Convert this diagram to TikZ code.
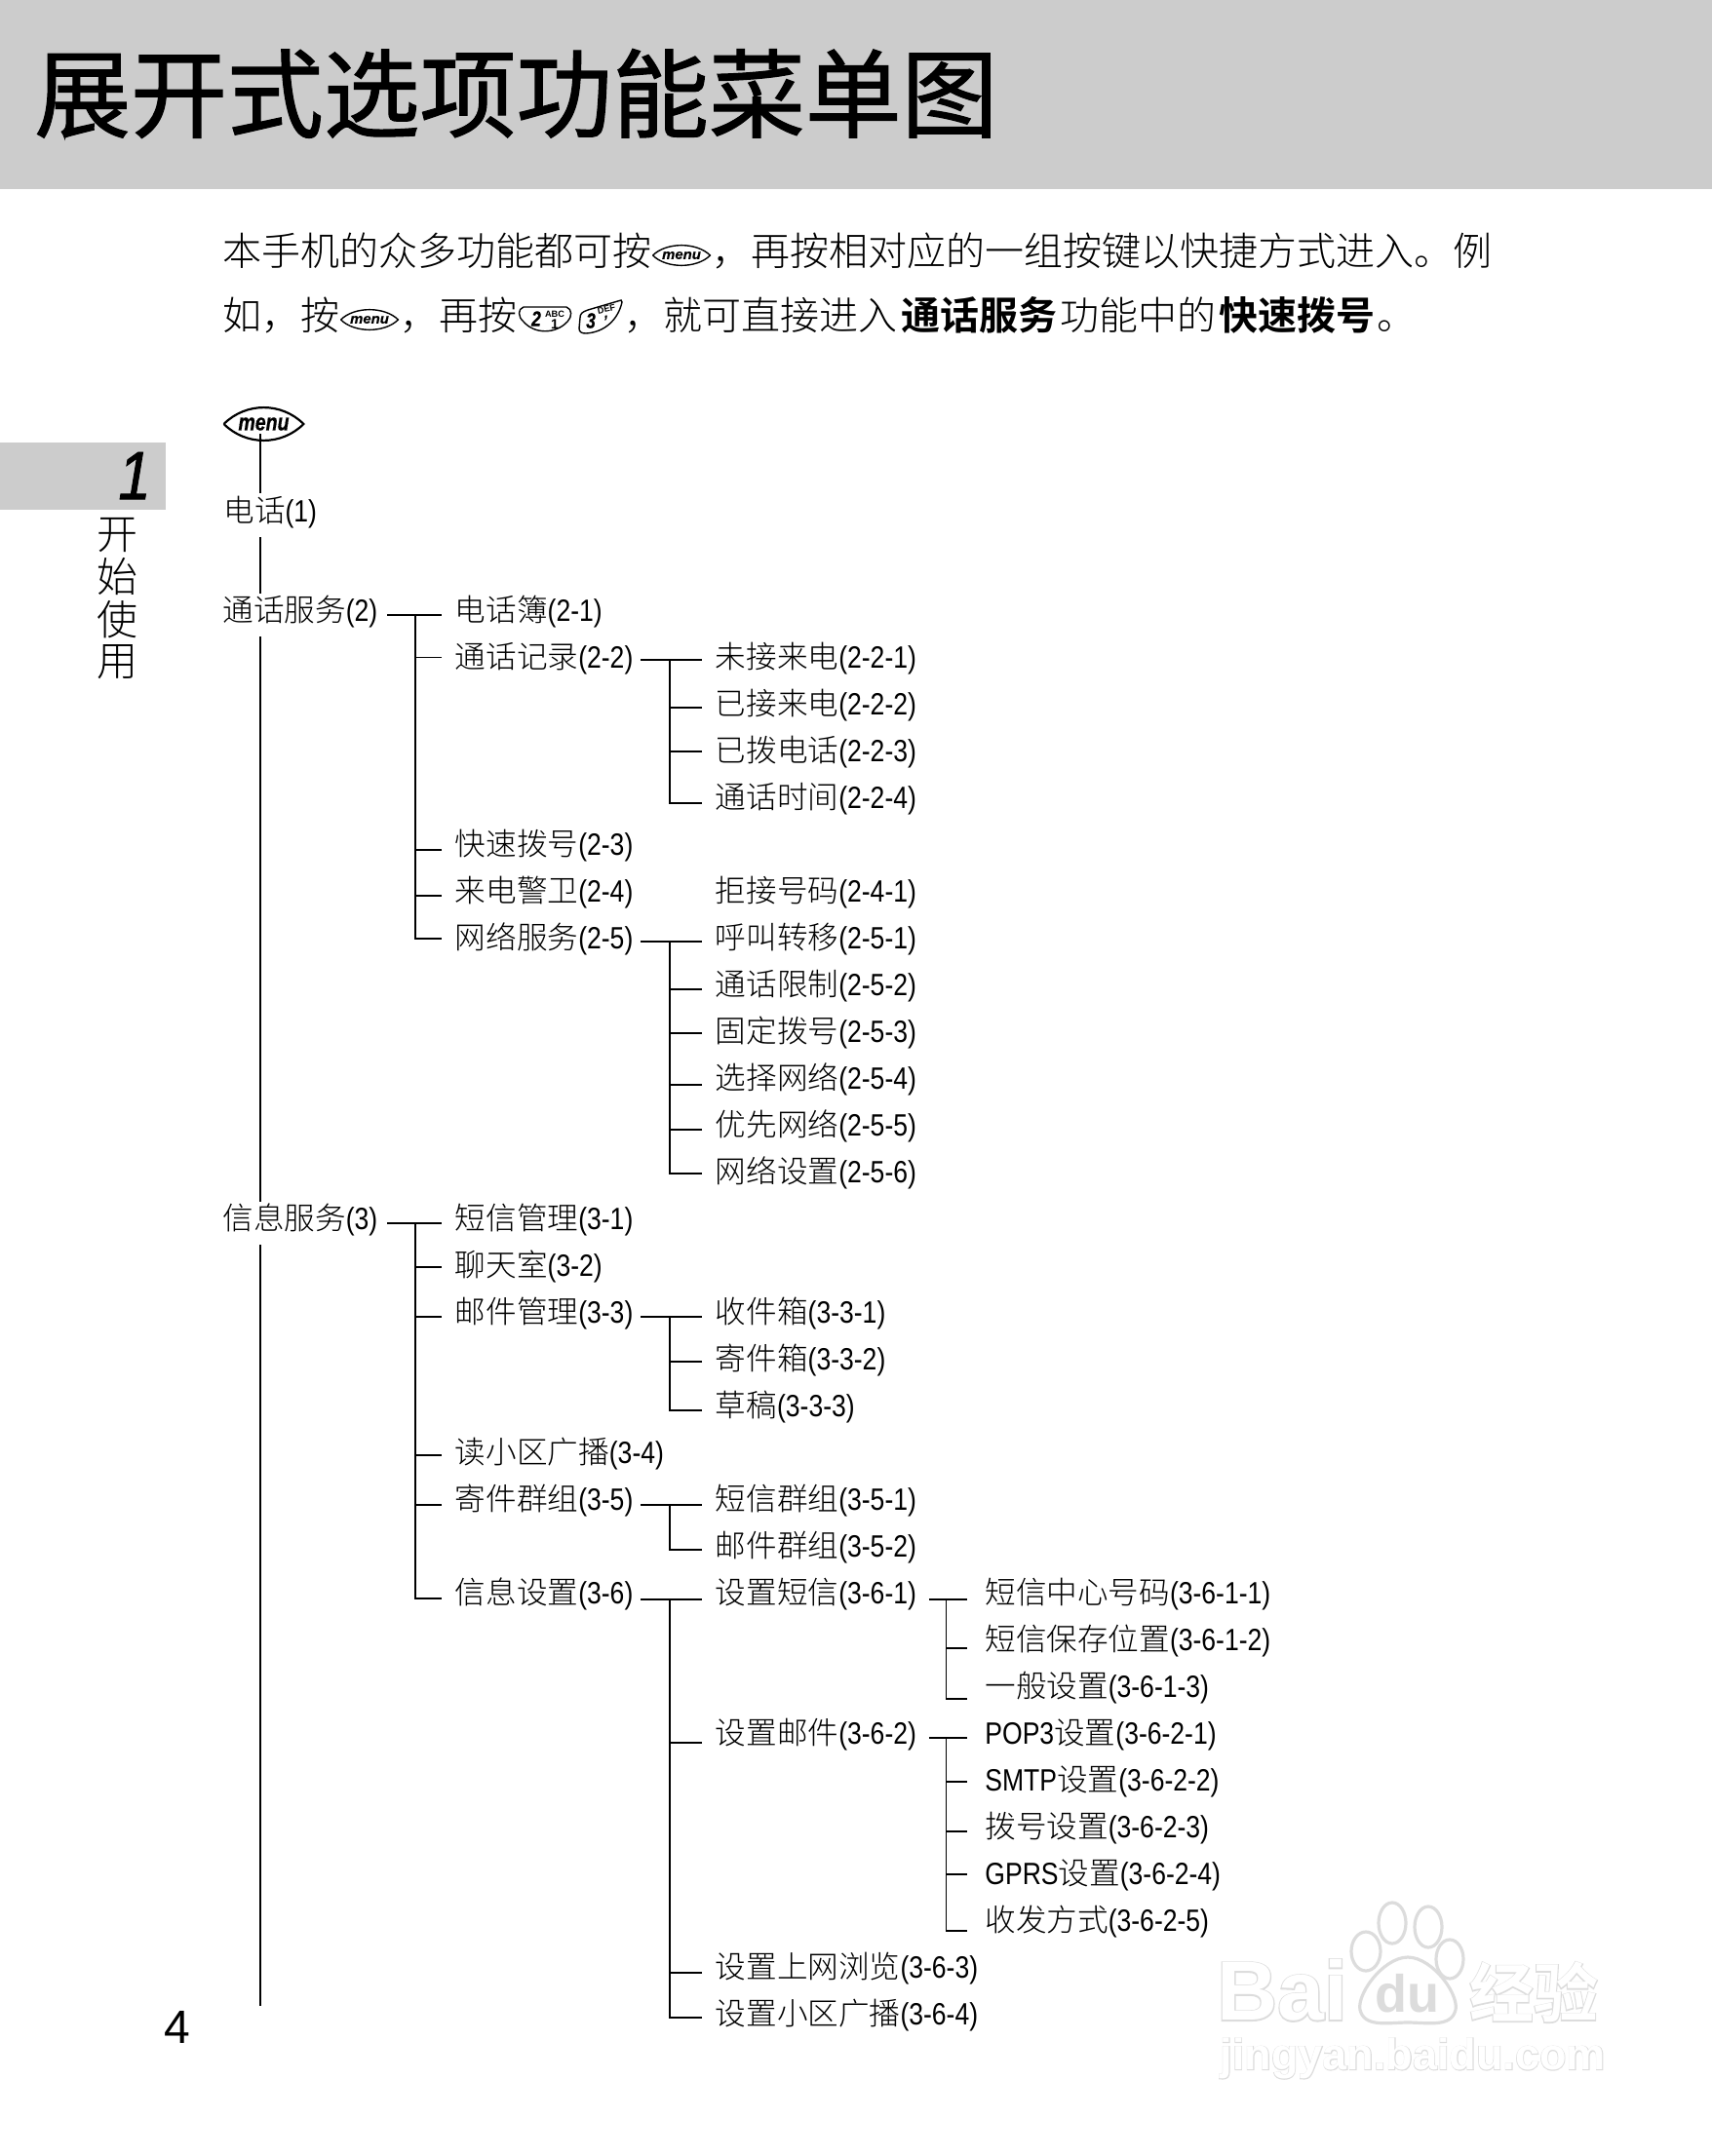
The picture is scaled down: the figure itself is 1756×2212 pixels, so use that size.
\documentclass[tikz,border=0pt]{standalone}
\usepackage{fontspec}
\IfFontExistsTF{Noto Sans CJK SC Light}
  {\setmainfont{Noto Sans CJK SC Light}[BoldFont=Noto Sans CJK SC Bold]}
  {\setmainfont{Noto Sans CJK SC}}
\newfontfamily\cjreg{Noto Sans CJK SC}
\newfontfamily\cjbold{Noto Sans CJK SC Bold}
\newfontfamily\cjwm[FakeBold=3]{Noto Sans CJK SC Bold}
\newfontfamily\latfont[FakeStretch=0.84]{Liberation Sans}
\newfontfamily\keyfont[FakeStretch=0.8,FakeBold=0.5]{Liberation Sans Bold Italic}
\newfontfamily\keywide[FakeStretch=1.05,FakeBold=0.3]{Liberation Sans Bold Italic}
\newfontfamily\numfont[FakeStretch=0.85,FakeBold=1.2]{Liberation Sans Italic}
\newfontfamily\pagefont{Liberation Sans}
\newfontfamily\wmfont{Liberation Sans Bold}
\newfontfamily\wmhalo[FakeBold=3]{Liberation Sans Bold}
\usetikzlibrary{calc}
\definecolor{bargray}{HTML}{CCCCCC}
\definecolor{wmgray}{HTML}{DCDCDC}
\newcommand\ltn[1]{{\latfont #1}}
\tikzset{
  conn/.style={line width=0.8pt,black},
  itm/.style={anchor=west,inner ysep=0pt,inner xsep=6.75pt,text height=14.25pt,text depth=3.75pt,
    font=\fontsize{15.8}{18}\selectfont},
  itmfour/.style={itm,inner xsep=9.25pt},
  bodytxt/.style={anchor=west,inner sep=0pt,text height=18pt,text depth=2.8pt,
    font=\fontsize{20}{24}\selectfont},
  sidetxt/.style={inner sep=0pt,font=\fontsize{21}{24}\selectfont},
  keyout/.style={line width=0.7pt,black,fill=white},
  wmshape/.style={draw=wmgray,fill=white,line width=1.6pt},
}
% connector helpers: the offsets are pixel offsets of the rule from the row centre
\newcommand\tick[3]{\draw[conn] ([yshift=-#2*0.5pt]#1.west) -- ++(-#3,0);}
\newcommand\bracket[5]{\draw[conn] ([yshift=-#4*0.5pt]#3.west) -- ++(-#5,0) |- ([yshift=-#2*0.5pt]#1.west);}
\newcommand\stub[4]{\draw[conn] ([yshift=-#3*0.5pt,xshift=#4]#1.east) -- ([yshift=-#3*0.5pt]#2.west);}
\newcommand\menukey[7]{%
  \node[inner sep=0pt,minimum width=#4*0.5pt,font=#5] (#1) at (#2,#3) {menu};
  \draw[line width=#6,black] (#1.west) to[out=45,in=135,looseness=#7] (#1.east) to[out=-135,in=-45,looseness=#7] (#1.west);}
\begin{document}
\begin{tikzpicture}[x=0.5pt,y=-0.5pt]
\useasboundingbox (0,0) rectangle (1756,2212);
% header
\fill[bargray] (0,0) rectangle (1756,194);
\node[anchor=west,inner sep=0pt,text height=40pt,text depth=2.6pt,
      font=\cjreg\fontsize{49.4}{50}\selectfont] (title) at (35,96)
      {\addfontfeatures{FakeBold=1.2}展开式选项功能菜单图};
% side tab
\fill[bargray] (0,454) rectangle (170,523);
\node[inner sep=0pt,font=\numfont\fontsize{35}{35}\selectfont] (chap) at (138,488) {1};
\node[sidetxt] (s1) at (120,549) {开};
\node[sidetxt] (s2) at (120,592) {始};
\node[sidetxt] (s3) at (120,636) {使};
\node[sidetxt] (s4) at (120,679) {用};
% intro
\node[bodytxt] (p1) at (228,257) {本手机的众多功能都可按};
\menukey{mk1}{699}{262}{58}{\keywide\fontsize{7.1}{8}\selectfont}{0.7pt}{0.85}
\node[bodytxt] (p2) at (730,257) {，再按相对应的一组按键以快捷方式进入。例};
\node[bodytxt] (p3) at (228,323) {如，按};
\menukey{mk2}{379}{328}{58}{\keywide\fontsize{7.1}{8}\selectfont}{0.7pt}{0.85}
\node[bodytxt] (p4) at (410,323) {，再按};
\draw[keyout] (537,315) -- (581,315) .. controls (587,317) and (587,325) .. (582,330) .. controls (570,343) and (548,343) .. (537,330) .. controls (531,325) and (531,317) .. (537,315) -- cycle;
\node[inner sep=0pt,font=\keyfont\fontsize{11}{11}\selectfont] (k2a) at (550,327) {2};
\node[inner sep=0pt,font=\wmfont\fontsize{4.6}{5}\selectfont] (k2b) at (569,322) {ABC};
\node[inner sep=0pt,font=\wmfont\fontsize{7}{7}\selectfont] (k2c) at (569,333) {1};
\draw[keyout] (637,308) -- (603,318) .. controls (597,320) and (595,322) .. (595,326) -- (594,337) .. controls (594,341) and (597,342) .. (601,342) .. controls (620,341) and (634,328) .. (638,310) -- cycle;
\node[inner sep=0pt,font=\keyfont\fontsize{11}{11}\selectfont] (k3a) at (606,329) {3};
\node[inner sep=0pt,rotate=12,font=\wmfont\fontsize{4.6}{5}\selectfont] (k3b) at (622,317) {DEF};
\node[inner sep=0pt,font=\keyfont\fontsize{8}{8}\selectfont] (k3c) at (622,326) {,};
\node[bodytxt] (p5) at (640,323) {，就可直接进入};
\node[bodytxt] (p6) at (924,323) {\textbf{通话服务}};
\node[bodytxt] (p7) at (1087,323) {功能中的};
\node[bodytxt] (p8) at (1250,323) {\textbf{快速拨号}};
\node[bodytxt] (p9) at (1412,323) {。};
% root
\menukey{root}{270.5}{435}{81}{\keyfont\fontsize{12.2}{13}\selectfont}{1.1pt}{1}
\node[itm,inner xsep=0pt] (t1) at (229,525) {电话\ltn{(1)}};
\node[itm] (t2) at (214.5,627) {通话服务\ltn{(2)}};
\node[itm] (t3) at (214.5,1251) {信息服务\ltn{(3)}};
\coordinate (mb) at (267,0);
\coordinate (mend) at (267,2058);
\draw[conn] ([yshift=-1.5pt]root.south -| mb) -- ([yshift=0.5pt]t1.north -| mb);
\draw[conn] ([yshift=-4pt]t1.south -| mb) -- (t2.north -| mb);
\draw[conn] ([yshift=-4pt]t2.south -| mb) -- (t3.north -| mb);
\draw[conn] ([yshift=-4pt]t3.south -| mb) -- (mend);
% level 2
\node[itm] (a0) at (453,627) {电话簿\ltn{(2-1)}};
\node[itm] (a1) at (453,675) {通话记录\ltn{(2-2)}};
\node[itm] (a5) at (453,867) {快速拨号\ltn{(2-3)}};
\node[itm] (a6) at (453,915) {来电警卫\ltn{(2-4)}};
\node[itm] (a7) at (453,963) {网络服务\ltn{(2-5)}};
\node[itm] (a13) at (453,1251) {短信管理\ltn{(3-1)}};
\node[itm] (a14) at (453,1299) {聊天室\ltn{(3-2)}};
\node[itm] (a15) at (453,1347) {邮件管理\ltn{(3-3)}};
\node[itm] (a18) at (453,1491) {读小区广播\ltn{(3-4)}};
\node[itm] (a19) at (453,1539) {寄件群组\ltn{(3-5)}};
\node[itm] (a21) at (453,1635) {信息设置\ltn{(3-6)}};
% level 3
\node[itm] (b1) at (720,675) {未接来电\ltn{(2-2-1)}};
\node[itm] (b2) at (720,723) {已接来电\ltn{(2-2-2)}};
\node[itm] (b3) at (720,771) {已拨电话\ltn{(2-2-3)}};
\node[itm] (b4) at (720,819) {通话时间\ltn{(2-2-4)}};
\node[itm] (b6) at (720,915) {拒接号码\ltn{(2-4-1)}};
\node[itm] (b7) at (720,963) {呼叫转移\ltn{(2-5-1)}};
\node[itm] (b8) at (720,1011) {通话限制\ltn{(2-5-2)}};
\node[itm] (b9) at (720,1059) {固定拨号\ltn{(2-5-3)}};
\node[itm] (b10) at (720,1107) {选择网络\ltn{(2-5-4)}};
\node[itm] (b11) at (720,1155) {优先网络\ltn{(2-5-5)}};
\node[itm] (b12) at (720,1203) {网络设置\ltn{(2-5-6)}};
\node[itm] (b15) at (720,1347) {收件箱\ltn{(3-3-1)}};
\node[itm] (b16) at (720,1395) {寄件箱\ltn{(3-3-2)}};
\node[itm] (b17) at (720,1443) {草稿\ltn{(3-3-3)}};
\node[itm] (b19) at (720,1539) {短信群组\ltn{(3-5-1)}};
\node[itm] (b20) at (720,1587) {邮件群组\ltn{(3-5-2)}};
\node[itm] (b21) at (720,1635) {设置短信\ltn{(3-6-1)}};
\node[itm] (b24) at (720,1779) {设置邮件\ltn{(3-6-2)}};
\node[itm] (b29) at (720,2019) {设置上网浏览\ltn{(3-6-3)}};
\node[itm] (b30) at (720,2067) {设置小区广播\ltn{(3-6-4)}};
% level 4
\node[itmfour] (c21) at (991.5,1635) {短信中心号码\ltn{(3-6-1-1)}};
\node[itmfour] (c22) at (991.5,1683) {短信保存位置\ltn{(3-6-1-2)}};
\node[itmfour] (c23) at (991.5,1731) {一般设置\ltn{(3-6-1-3)}};
\node[itmfour] (c24) at (991.5,1779) {\ltn{POP3}设置\ltn{(3-6-2-1)}};
\node[itmfour] (c25) at (991.5,1827) {\ltn{SMTP}设置\ltn{(3-6-2-2)}};
\node[itmfour] (c26) at (991.5,1875) {拨号设置\ltn{(3-6-2-3)}};
\node[itmfour] (c27) at (991.5,1923) {\ltn{GPRS}设置\ltn{(3-6-2-4)}};
\node[itmfour] (c28) at (991.5,1971) {收发方式\ltn{(3-6-2-5)}};
% connectors level 1 -> 2
\stub{t2}{a0}{4}{-2pt}
\bracket{a0}{4}{a7}{0}{27}
\tick{a1}{-0.5}{27}
\tick{a5}{5}{27}
\tick{a6}{4}{27}
\stub{t3}{a13}{4}{-2pt}
\bracket{a13}{4}{a21}{5}{27}
\tick{a14}{1}{27}
\tick{a15}{4}{27}
\tick{a18}{2}{27}
\tick{a19}{5}{27}
% connectors level 2 -> 3
\stub{a1}{b1}{2}{-3pt}
\bracket{b1}{2}{b4}{5}{33}
\tick{b2}{3}{33}
\tick{b3}{0}{33}
\stub{a7}{b7}{3}{-3pt}
\bracket{b7}{3}{b12}{1}{33}
\tick{b8}{4}{33}
\tick{b9}{1}{33}
\tick{b10}{6}{33}
\tick{b11}{4}{33}
\stub{a15}{b15}{4}{-3pt}
\bracket{b15}{4}{b17}{4}{33}
\tick{b16}{2}{33}
\stub{a19}{b19}{5}{-3pt}
\bracket{b19}{5}{b20}{3}{33}
\stub{a21}{b21}{6}{-3pt}
\bracket{b21}{6}{b30}{3}{33}
\tick{b24}{9}{33}
\tick{b29}{5}{33}
% connectors level 3 -> 4
\stub{b21}{c21}{6}{-0.5pt}
\bracket{c21}{6}{c23}{12}{21}
\tick{c22}{8}{21}
\stub{b24}{c24}{4}{-0.5pt}
\bracket{c24}{4}{c28}{10}{21}
\tick{c25}{1}{21}
\tick{c26}{4}{21}
\tick{c27}{0}{21}
% page number
\node[inner sep=0pt,font=\pagefont\fontsize{24}{24}\selectfont] (pg) at (182,2080) {4};
% watermark
\node[text=wmgray,inner sep=0pt,font=\wmhalo\fontsize{43}{43}\selectfont] (wa) at (1315,2042) {Bai};
\node[text=white,inner sep=0pt,font=\wmfont\fontsize{43}{43}\selectfont] (wb) at (1315,2042) {Bai};
\draw[wmshape] (1401,2002) ellipse [x radius=15,y radius=20];
\draw[wmshape] (1428,1973) ellipse [x radius=14,y radius=21];
\draw[wmshape] (1465,1977) ellipse [x radius=14,y radius=21];
\draw[wmshape] (1487,2010) ellipse [x radius=14,y radius=20];
\draw[wmshape] (1444,2008) .. controls (1470,2008) and (1500,2050) .. (1492,2065) .. controls (1486,2080) and (1462,2075) .. (1444,2075) .. controls (1426,2075) and (1402,2080) .. (1396,2065) .. controls (1388,2050) and (1418,2008) .. (1444,2008) -- cycle;
\node[text=wmgray,inner sep=0pt,font=\wmfont\fontsize{27}{27}\selectfont] (wc) at (1443,2045) {du};
\node[text=wmgray,inner sep=0pt,font=\cjwm\fontsize{33}{33}\selectfont] (wd) at (1573,2044) {经验};
\node[text=white,inner sep=0pt,font=\cjbold\fontsize{33}{33}\selectfont] (we) at (1573,2044) {经验};
\node[text=wmgray,inner sep=0pt,font=\wmhalo\fontsize{22.5}{25}\selectfont] (wf) at (1449,2112) {jingyan.baidu.com};
\node[text=white,inner sep=0pt,font=\wmfont\fontsize{22.5}{25}\selectfont] (wg) at (1449,2112) {jingyan.baidu.com};
\end{tikzpicture}
\end{document}
